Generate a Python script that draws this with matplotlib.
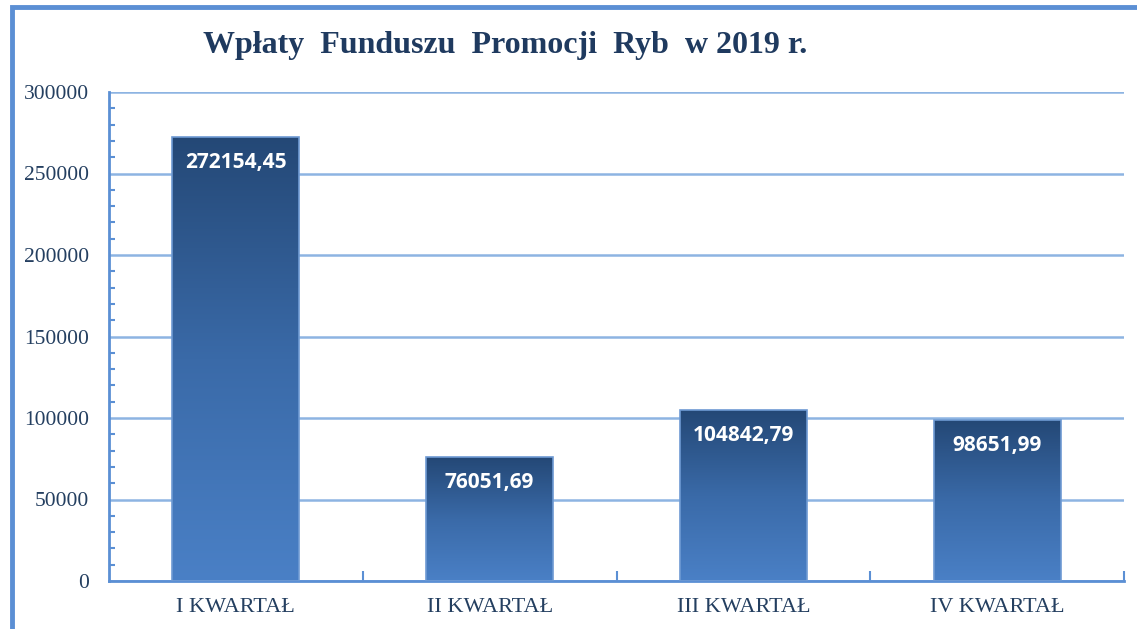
import numpy as np
import matplotlib.pyplot as plt
from matplotlib.colors import LinearSegmentedColormap
from matplotlib.patches import Rectangle

categories = ['I KWARTAŁ', 'II KWARTAŁ', 'III KWARTAŁ', 'IV KWARTAŁ']
values = [272154.45, 76051.69, 104842.79, 98651.99]
labels = ['272154,45', '76051,69', '104842,79', '98651,99']
yticks = [0, 50000, 100000, 150000, 200000, 250000, 300000]

fig = plt.figure(figsize=(11.37, 6.29), dpi=100)
ax = fig.add_axes([109 / 1137, 1 - 581 / 629, (1124 - 109) / 1137, (581 - 92) / 629])

# blue frame around the chart
fig.add_artist(Rectangle((12 / 1137, -0.05), 1.2, 1 - 7 / 629 + 0.05,
                         transform=fig.transFigure, fill=False,
                         edgecolor='#5B8FD4', linewidth=3.5))

x = np.arange(len(categories))
bars = ax.bar(x, values, width=0.5, color='none', edgecolor='#6E9AD3',
              linewidth=1.2, zorder=3)

cmap = LinearSegmentedColormap.from_list('bar', ['#4A80C6', '#3A6AA8', '#244876'])
grad = np.linspace(0, 1, 256).reshape(-1, 1)
for b in bars:
    x0, w, h = b.get_x(), b.get_width(), b.get_height()
    im = ax.imshow(grad, cmap=cmap, aspect='auto', origin='lower',
                   extent=(x0, x0 + w, 0, h), zorder=2)
    im.set_clip_path(b)

for xi, v, lab in zip(x, values, labels):
    ax.text(xi, v - 15500, lab, ha='center', va='center', color='white',
            fontsize=15, fontweight='bold', family='Open Sans', zorder=4)

ax.set_xlim(-0.5, len(categories) - 0.5)
ax.set_ylim(0, 300000)
ax.set_yticks(yticks)
ax.set_yticks(np.arange(0, 300001, 10000), minor=True)
ax.set_xticks(x)
ax.set_xticklabels(categories)
ax.set_xticks(np.arange(0.5, len(categories), 1), minor=True)

ax.grid(axis='y', which='major', color='#8DB4E2', linewidth=1.8, zorder=0)
ax.set_axisbelow(True)

for s in ['top', 'right']:
    ax.spines[s].set_visible(False)
for s in ['left', 'bottom']:
    ax.spines[s].set_color('#5B8FD4')
    ax.spines[s].set_linewidth(2)

ax.tick_params(axis='y', which='both', direction='in', color='#5B8FD4', width=1.5,
               labelsize=15.5, labelcolor='#243F60', pad=14.5)
ax.tick_params(axis='y', which='major', length=0)
ax.tick_params(axis='y', which='minor', length=4)
ax.tick_params(axis='x', which='major', length=0, labelsize=16,
               labelcolor='#243F60', pad=12)
ax.tick_params(axis='x', which='minor', direction='in', length=7, width=1.5,
               color='#5B8FD4')
for t in ax.get_xticklabels() + ax.get_yticklabels():
    t.set_family('Liberation Serif')

fig.text(505 / 1137, 1 - 45 / 629, 'Wpłaty  Funduszu  Promocji  Ryb  w 2019 r.',
         ha='center', va='center', fontsize=23, fontweight='bold',
         family='Liberation Serif', color='#1F3A5F')

fig.savefig('out.png', dpi=100)
